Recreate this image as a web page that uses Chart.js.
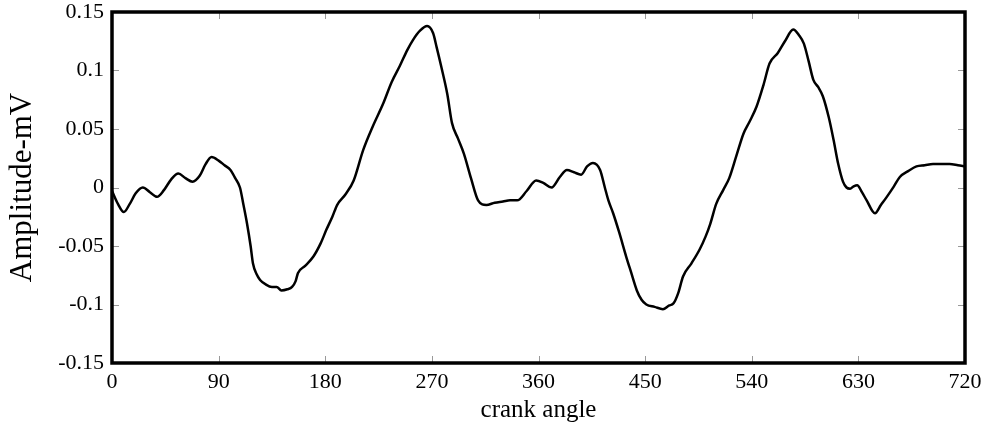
<!DOCTYPE html>
<html>
<head>
<meta charset="utf-8">
<script src="https://cdn.jsdelivr.net/npm/chart.js@4/dist/chart.umd.min.js"></script>
<style>
  html, body { margin: 0; padding: 0; background: #fff; }
  #wrap { width: 996px; height: 435px; }
</style>
</head>
<body>
<div id="wrap"><canvas id="crankChart" width="996" height="435"></canvas></div>
<script>
// crank angle (deg) and signal amplitude (mV)
const crankAngle = [
  0, 5, 10, 15, 20, 26, 32, 38, 44, 50, 56, 62, 68, 74, 79, 84, 90, 95, 100, 104,
  108, 111, 114, 117, 119, 122, 125, 130, 135, 139, 143, 148, 152, 155, 157, 163, 170, 176, 181, 186,
  190, 197, 204, 212, 220, 229, 236, 243, 249, 254, 260, 266, 271, 274, 278, 283, 287, 292, 297, 303,
  309, 316, 323, 330, 336, 342, 350, 358, 364, 371, 378, 384, 390, 396, 401, 406, 412, 416, 419, 423,
  428, 434, 438, 443, 447, 451, 458, 465, 470, 474, 478, 482, 489, 496, 501, 505, 510, 516, 521, 527,
  533, 538, 544, 550, 555, 562, 568, 575, 580, 584, 588, 592, 596, 600, 605, 609, 613, 617, 620, 623,
  626, 629, 633, 637, 644, 649, 654, 660, 665, 672, 679, 686, 693, 700, 707, 714, 720
];
const amplitude = [
  -0.003, -0.014, -0.021, -0.014, -0.005, 0.000, -0.004, -0.008, -0.002, 0.007, 0.012, 0.008, 0.005, 0.010, 0.020, 0.026, 0.023, 0.019, 0.015, 0.008,
  0.000, -0.015, -0.031, -0.050, -0.065, -0.074, -0.079, -0.083, -0.085, -0.085, -0.088, -0.087, -0.085, -0.080, -0.073, -0.067, -0.059, -0.048, -0.036, -0.025,
  -0.015, -0.006, 0.006, 0.032, 0.052, 0.072, 0.090, 0.104, 0.117, 0.126, 0.134, 0.138, 0.132, 0.120, 0.103, 0.080, 0.055, 0.042, 0.029, 0.008,
  -0.011, -0.015, -0.013, -0.012, -0.011, -0.011, -0.003, 0.006, 0.004, 0.000, 0.009, 0.015, 0.013, 0.011, 0.018, 0.021, 0.015, 0.000, -0.011, -0.022,
  -0.038, -0.059, -0.072, -0.088, -0.096, -0.100, -0.102, -0.104, -0.101, -0.099, -0.090, -0.076, -0.065, -0.053, -0.042, -0.031, -0.014, -0.002, 0.008, 0.027,
  0.046, 0.056, 0.069, 0.088, 0.106, 0.115, 0.125, 0.135, 0.130, 0.123, 0.108, 0.092, 0.086, 0.078, 0.060, 0.041, 0.020, 0.005, 0.000, -0.001,
  0.001, 0.002, -0.004, -0.011, -0.022, -0.015, -0.008, 0.001, 0.009, 0.014, 0.018, 0.019, 0.020, 0.020, 0.020, 0.019, 0.018
];

const xTickValues = [0, 90, 180, 270, 360, 450, 540, 630, 720];
const xTickLabels = ['0', '90', '180', '270', '360', '450', '540', '630', '720'];
const yTickValues = [-0.15, -0.1, -0.05, 0, 0.05, 0.1, 0.15];
const yTickLabels = ['-0.15', '-0.1', '-0.05', '0', '0.05', '0.1', '0.15'];

const points = crankAngle.map((a, i) => ({ x: a, y: amplitude[i] }));

// black frame + small grey ticks pointing into the plot
const framePlugin = {
  id: 'frame',
  afterDatasetsDraw(chart) {
    const ctx = chart.ctx;
    const area = chart.chartArea;
    const xs = chart.scales.x, ys = chart.scales.y;
    ctx.save();
    ctx.strokeStyle = '#999';
    ctx.lineWidth = 1;
    ctx.beginPath();
    xTickValues.forEach(v => {
      const px = Math.round(xs.getPixelForValue(v)) + 0.5;
      ctx.moveTo(px, area.bottom); ctx.lineTo(px, area.bottom - 7);
      ctx.moveTo(px, area.top); ctx.lineTo(px, area.top + 7);
    });
    yTickValues.forEach(v => {
      const py = Math.round(ys.getPixelForValue(v)) + 0.5;
      ctx.moveTo(area.left, py); ctx.lineTo(area.left + 7, py);
      ctx.moveTo(area.right, py); ctx.lineTo(area.right - 7, py);
    });
    ctx.stroke();
    ctx.strokeStyle = '#000';
    ctx.lineWidth = 3.5;
    ctx.strokeRect(area.left, area.top, area.right - area.left, area.bottom - area.top);
    ctx.restore();
  }
};

const serif = "'Liberation Serif', 'Times New Roman', serif";

new Chart(document.getElementById('crankChart').getContext('2d'), {
  type: 'line',
  data: {
    datasets: [{
      data: points,
      borderColor: '#000',
      borderWidth: 2.5,
      pointRadius: 0,
      fill: false,
      cubicInterpolationMode: 'monotone'
    }]
  },
  options: {
    responsive: false,
    animation: false,
    layout: { padding: { top: 12, right: 31, left: 0, bottom: 0 } },
    plugins: { legend: { display: false }, tooltip: { enabled: false } },
    scales: {
      x: {
        type: 'linear',
        min: 0,
        max: 720,
        afterBuildTicks: s => { s.ticks = xTickValues.map(v => ({ value: v })); },
        afterFit: s => { s.height = 72; s.paddingLeft = 0; s.paddingRight = 0; },
        grid: { display: false, drawTicks: false },
        border: { display: false },
        ticks: {
          color: '#000',
          padding: 6,
          maxRotation: 0,
          font: { family: serif, size: 22 },
          callback: v => xTickLabels[xTickValues.indexOf(v)]
        },
        title: {
          display: true,
          text: 'crank angle',
          color: '#000',
          padding: { top: 0, bottom: 10 },
          font: { family: serif, size: 25 }
        }
      },
      y: {
        min: -0.15,
        max: 0.15,
        afterBuildTicks: s => { s.ticks = yTickValues.map(v => ({ value: v })); },
        afterFit: s => { s.width = 112; s.paddingTop = 0; s.paddingBottom = 0; },
        grid: { display: false, drawTicks: false },
        border: { display: false },
        ticks: {
          color: '#000',
          padding: 8,
          font: { family: serif, size: 22 },
          callback: v => yTickLabels[yTickValues.indexOf(v)]
        },
        title: {
          display: true,
          text: 'Amplitude-mV',
          color: '#000',
          padding: { top: 4, bottom: 0 },
          font: { family: serif, size: 31 }
        }
      }
    }
  },
  plugins: [framePlugin]
});
</script>
</body>
</html>
